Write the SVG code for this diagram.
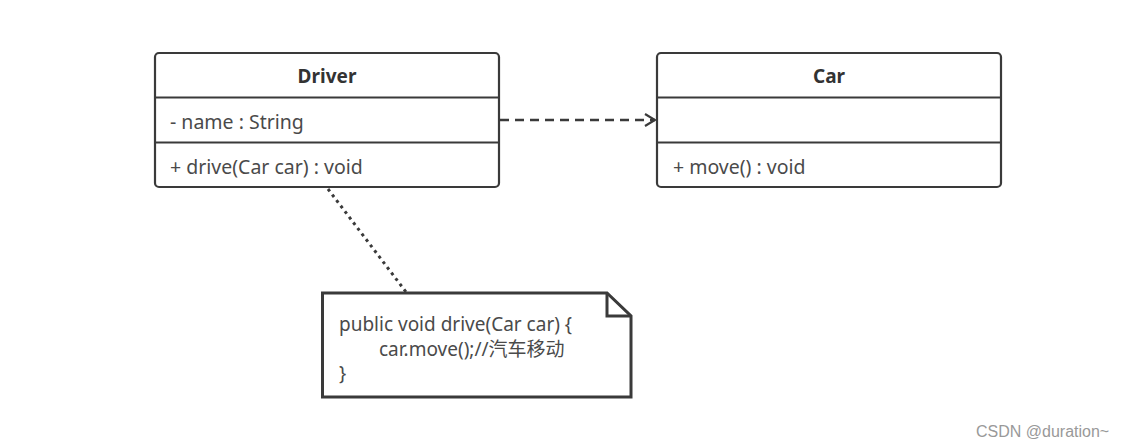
<svg xmlns="http://www.w3.org/2000/svg" width="1126" height="447" viewBox="0 0 1126 447">
<defs>
<style>
.box{fill:#fff;stroke:#3a3a3a;stroke-width:2.2}
.div{stroke:#3a3a3a;stroke-width:2.2}
.t{font-family:"Noto Sans","Noto Sans CJK SC",sans-serif;font-size:19.5px;fill:#4a4a4a}
.b{font-weight:bold;font-size:19px;fill:#333;text-anchor:middle}
.n{font-size:19px}
</style>
<marker id="open" markerWidth="14" markerHeight="16" refX="12" refY="8" orient="auto" markerUnits="userSpaceOnUse">
<path d="M2,2 L12,8 L2,14" fill="none" stroke="#3a3a3a" stroke-width="2.2"/>
</marker>
</defs>
<rect width="1126" height="447" fill="#fff"/>
<g id="connectors">
<line x1="500" y1="120" x2="655" y2="120" stroke="#3a3a3a" stroke-width="2.5" stroke-dasharray="9,6" marker-end="url(#open)"/>
<line x1="328" y1="189" x2="406" y2="292" stroke="#3a3a3a" stroke-width="3" stroke-dasharray="3,4"/>
</g>
<g id="driver">
<rect class="box" x="155" y="53" width="344" height="134" rx="4"/>
<line class="div" x1="155" y1="97.5" x2="499" y2="97.5"/>
<line class="div" x1="155" y1="142.5" x2="499" y2="142.5"/>
<text class="t b" x="327" y="83">Driver</text>
<text class="t" x="170" y="129">- name : String</text>
<text class="t" x="170" y="174">+ drive(Car car) : void</text>
</g>
<g id="car">
<rect class="box" x="657" y="53" width="344" height="134" rx="4"/>
<line class="div" x1="657" y1="97.5" x2="1001" y2="97.5"/>
<line class="div" x1="657" y1="142.5" x2="1001" y2="142.5"/>
<text class="t b" x="829" y="83">Car</text>
<text class="t" x="673" y="174">+ move() : void</text>
</g>
<g id="note">
<path d="M322.5,293 L607,293 L631,316 L631,397 L322.5,397 Z" fill="#fff" stroke="#3a3a3a" stroke-width="3"/>
<path d="M607,293 L607,316 L631,316" fill="none" stroke="#3a3a3a" stroke-width="3"/>
<text class="t n" x="339" y="331">public void drive(Car car) {</text>
<text class="t n" x="379" y="356">car.move();//汽车移动</text>
<text class="t n" x="339" y="380">}</text>
</g>
<text x="976" y="437" font-family="'Liberation Sans',Arial,sans-serif" font-size="16" fill="#999">CSDN @duration~</text>
</svg>
